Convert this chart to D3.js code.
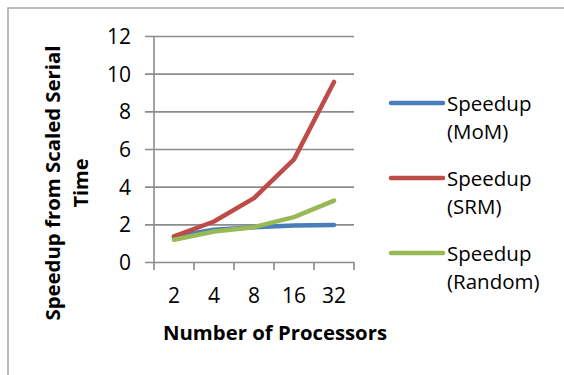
<!DOCTYPE html>
<html>
<head>
<meta charset="utf-8">
<script src="https://cdn.jsdelivr.net/npm/d3@7"></script>
<style>
  html, body { margin: 0; padding: 0; background: #fff; }
  svg { display: block; }
  text { font-family: "Open Sans", "DejaVu Sans", sans-serif; fill: #000; }
</style>
</head>
<body>
<svg id="chart" width="564" height="375"></svg>
<script>
// Processor counts on the x axis
const processors = ["2", "4", "8", "16", "32"];

// Speedup from scaled serial time, one array per partitioning strategy
const speedupMoM    = [1.35, 1.71, 1.85, 1.94, 1.97];
const speedupSRM    = [1.36, 2.15, 3.39, 5.45, 9.56];
const speedupRandom = [1.18, 1.62, 1.85, 2.38, 3.26];

const yTicks = [0, 2, 4, 6, 8, 10, 12];

const seriesNames  = ["Speedup (MoM)", "Speedup (SRM)", "Speedup (Random)"];
const seriesColors = ["#4a7ebb", "#be4b48", "#98b954"];

const series = [
  { name: seriesNames[0], color: seriesColors[0], values: speedupMoM },
  { name: seriesNames[1], color: seriesColors[1], values: speedupSRM },
  { name: seriesNames[2], color: seriesColors[2], values: speedupRandom }
];

const svg = d3.select("#chart");

// Outer frame of the chart area
svg.append("rect")
  .attr("x", 8).attr("y", 8)
  .attr("width", 600).attr("height", 400)
  .attr("fill", "none")
  .attr("stroke", "#a6a6a6")
  .attr("stroke-width", 1.5);

const plot = { left: 154, right: 354, top: 36, bottom: 262 };

const x = d3.scaleBand().domain(processors).range([plot.left, plot.right]);
const y = d3.scaleLinear().domain([0, 12]).range([plot.bottom, plot.top]);

const gridColor = "#8c8c8c";

// Horizontal gridlines with left tick marks and value labels
const yAxis = d3.axisLeft(y)
  .tickValues(yTicks)
  .tickSize(-(plot.right - plot.left))
  .tickPadding(0)
  .tickFormat(d3.format("d"));

const gy = svg.append("g")
  .attr("transform", `translate(${plot.left},0)`)
  .call(yAxis);
gy.select(".domain").remove();
gy.selectAll(".tick line")
  .attr("x1", -9)
  .attr("stroke", gridColor)
  .attr("stroke-width", 1.6);
gy.selectAll(".tick text")
  .attr("x", -23)
  .attr("dy", "0.36em")
  .attr("font-size", 21)
  .attr("font-family", "Open Sans, sans-serif")
  .attr("fill", "#000");

// Vertical axis line
svg.append("line")
  .attr("x1", plot.left).attr("x2", plot.left)
  .attr("y1", y(12)).attr("y2", y(0))
  .attr("stroke", gridColor).attr("stroke-width", 1.6);

// Category axis: tick marks at band edges, labels at band centres
const edges = processors.map(p => x(p)).concat([x.range()[1]]);
svg.append("g").selectAll("line")
  .data(edges)
  .join("line")
  .attr("x1", d => d).attr("x2", d => d)
  .attr("y1", plot.bottom).attr("y2", plot.bottom + 8)
  .attr("stroke", gridColor).attr("stroke-width", 1.6);

svg.append("g").selectAll("text")
  .data(processors)
  .join("text")
  .attr("x", d => x(d) + x.bandwidth() / 2)
  .attr("y", 303)
  .attr("text-anchor", "middle")
  .attr("font-size", 21)
  .text(d => d);

// Series lines
const line = d3.line()
  .x((d, i) => x(processors[i]) + x.bandwidth() / 2)
  .y(d => y(d));

svg.append("g").selectAll("path")
  .data(series)
  .join("path")
  .attr("d", d => line(d.values))
  .attr("fill", "none")
  .attr("stroke", d => d.color)
  .attr("stroke-width", 4.5)
  .attr("stroke-linejoin", "round")
  .attr("stroke-linecap", "round");

// Axis titles
svg.append("text")
  .attr("x", 275).attr("y", 340)
  .attr("text-anchor", "middle")
  .attr("font-size", 20)
  .attr("font-weight", "bold")
  .attr("textLength", 224)
  .attr("lengthAdjust", "spacingAndGlyphs")
  .text("Number of Processors");

const yTitle = svg.append("g")
  .attr("transform", "translate(0,183) rotate(-90)");
yTitle.append("text")
  .attr("x", 0).attr("y", 60)
  .attr("text-anchor", "middle")
  .attr("font-size", 20)
  .attr("font-weight", "bold")
  .attr("textLength", 275)
  .attr("lengthAdjust", "spacingAndGlyphs")
  .text("Speedup from Scaled Serial");
yTitle.append("text")
  .attr("x", 0).attr("y", 88)
  .attr("text-anchor", "middle")
  .attr("font-size", 20)
  .attr("font-weight", "bold")
  .text("Time");

// Legend
const legendTop = 103;
const legendStep = 75;
const legend = svg.append("g").selectAll("g")
  .data(series)
  .join("g")
  .attr("transform", (d, i) => `translate(391,${legendTop + i * legendStep})`);

legend.append("line")
  .attr("x1", 0).attr("x2", 52)
  .attr("y1", 0).attr("y2", 0)
  .attr("stroke", d => d.color)
  .attr("stroke-width", 4.5)
  .attr("stroke-linecap", "round");

legend.append("text")
  .attr("x", 56)
  .attr("y", 8)
  .attr("font-size", 20.5)
  .text(d => d.name.split(" ")[0]);

legend.append("text")
  .attr("x", 56)
  .attr("y", 36)
  .attr("font-size", 20.5)
  .text(d => d.name.split(" ")[1]);
</script>
</body>
</html>
